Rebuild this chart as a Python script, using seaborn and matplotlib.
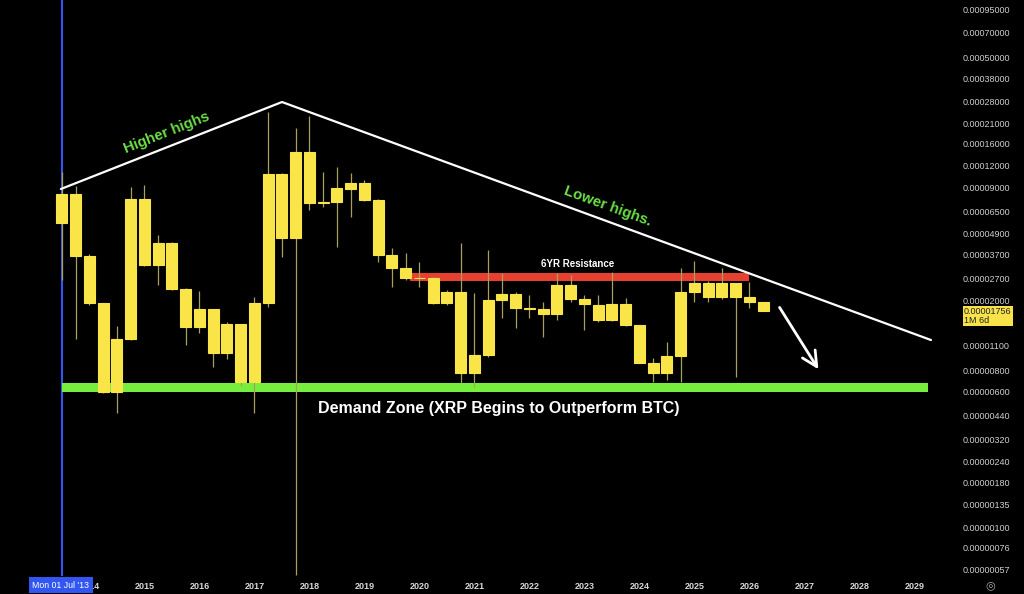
import matplotlib
matplotlib.use("Agg")
import matplotlib.pyplot as plt
import numpy as np
import pandas as pd
import seaborn as sns

# ── quarterly XRP/BTC candles, Q3 2013 .. Q2 2026 ─────────────────────────
quarters = pd.date_range("2013-07-01", periods=52, freq="QS")

opens = [5.62e-5, 8.22e-5, 3.63e-5, 1.93e-5, 5.96e-6, 1.21e-5, 7.69e-5, 3.21e-5,
         4.31e-5, 2.34e-5, 1.42e-5, 1.79e-5, 9.98e-6, 1.47e-5, 6.86e-6, 1.93e-5,
         1.07e-4, 4.57e-5, 1.44e-4, 7.27e-5, 7.36e-5, 8.75e-5, 9.47e-5, 7.59e-5,
         3.67e-5, 3.10e-5, 2.69e-5, 2.70e-5, 1.93e-5, 2.24e-5, 7.66e-6, 9.76e-6,
         2.02e-5, 2.18e-5, 1.81e-5, 1.79e-5, 1.67e-5, 2.47e-5, 2.05e-5, 1.89e-5,
         1.55e-5, 1.91e-5, 1.45e-5, 8.82e-6, 7.66e-6, 9.67e-6, 2.24e-5, 2.52e-5,
         2.11e-5, 2.52e-5, 2.11e-5, 1.98e-5]
highs = [1.10e-4, 9.14e-5, 3.70e-5, 1.95e-5, 1.44e-5, 8.98e-5, 9.26e-5, 4.78e-5,
         4.35e-5, 2.36e-5, 2.29e-5, 1.80e-5, 1.52e-5, 1.48e-5, 2.11e-5, 2.44e-4,
         1.08e-4, 1.96e-4, 2.31e-4, 1.10e-4, 1.18e-4, 1.08e-4, 9.89e-5, 7.65e-5,
         4.01e-5, 3.78e-5, 3.36e-5, 2.75e-5, 2.30e-5, 4.28e-5, 2.23e-5, 3.92e-5,
         2.88e-5, 2.26e-5, 2.16e-5, 1.98e-5, 2.88e-5, 2.81e-5, 2.16e-5, 2.16e-5,
         2.94e-5, 2.07e-5, 1.46e-5, 9.34e-6, 1.16e-5, 3.08e-5, 3.40e-5, 2.61e-5,
         3.08e-5, 2.53e-5, 2.58e-5, 1.98e-5]
lows = [2.63e-5, 1.21e-5, 1.90e-5, 5.90e-6, 4.53e-6, 1.19e-5, 3.18e-5, 2.47e-5,
        2.30e-5, 1.11e-5, 1.31e-5, 8.36e-6, 9.26e-6, 6.48e-6, 4.53e-6, 1.85e-5,
        3.58e-5, 5.31e-7, 6.65e-5, 6.95e-5, 4.08e-5, 6.08e-5, 7.50e-5, 3.36e-5,
        2.39e-5, 2.63e-5, 2.41e-5, 1.92e-5, 1.90e-5, 6.71e-6, 6.42e-6, 9.50e-6,
        1.59e-5, 1.39e-5, 1.59e-5, 1.24e-5, 1.55e-5, 1.98e-5, 1.36e-5, 1.52e-5,
        1.53e-5, 1.44e-5, 8.80e-6, 6.83e-6, 7.01e-6, 6.86e-6, 1.96e-5, 1.96e-5,
        2.04e-5, 7.32e-6, 1.81e-5, 1.756e-5]
closes = [8.22e-5, 3.63e-5, 1.93e-5, 5.96e-6, 1.21e-5, 7.69e-5, 3.21e-5, 4.31e-5,
          2.34e-5, 1.42e-5, 1.79e-5, 9.98e-6, 1.47e-5, 6.86e-6, 1.93e-5, 1.07e-4,
          4.57e-5, 1.44e-4, 7.27e-5, 7.36e-5, 8.86e-5, 9.47e-5, 7.59e-5, 3.67e-5,
          3.10e-5, 2.69e-5, 2.70e-5, 1.93e-5, 2.24e-5, 7.66e-6, 9.76e-6, 2.02e-5,
          2.18e-5, 1.81e-5, 1.80e-5, 1.67e-5, 2.47e-5, 2.05e-5, 1.91e-5, 1.55e-5,
          1.91e-5, 1.45e-5, 8.82e-6, 7.66e-6, 9.67e-6, 2.24e-5, 2.52e-5, 2.11e-5,
          2.52e-5, 2.11e-5, 1.98e-5, 1.756e-5]

# drawn annotations (decimal year, price)
trend_x = [2013.48, 2017.5, 2029.3]
trend_y = [8.78e-5, 2.776e-4, 1.19e-5]
resist_x = [2019.83, 2025.99]
resist_lo, resist_hi = 2.616e-5, 2.908e-5
demand_x = [2013.5, 2029.25]
demand_lo, demand_hi = 5.96e-6, 6.71e-6
arrow_from = (2026.52, 1.89e-5)
arrow_to = (2027.28, 7.83e-6)

price_ticks = [0.00095, 0.0007, 0.0005, 0.00038, 0.00028, 0.00021, 0.00016,
               0.00012, 0.00009, 0.000065, 0.000049, 0.000037, 0.000027,
               0.00002, 0.000011, 0.000008, 0.000006, 0.0000044, 0.0000032,
               0.0000024, 0.0000018, 0.00000135, 0.000001, 0.00000076,
               0.00000057]
year_ticks = list(range(2014, 2030))
last_price = "0.00001756"

# ── styling ────────────────────────────────────────────────────────────────
sns.set_theme(style="dark", rc={"axes.facecolor": "black",
                                "figure.facecolor": "black",
                                "axes.edgecolor": "black"})
plt.rcParams["font.family"] = ["Liberation Sans", "DejaVu Sans"]

YELLOW = "#F9E547"
WICK = "#a8a060"
GREEN = "#78EE3C"
TXT_GREEN = "#6BE046"
RED = "#E8402F"
BLUE = "#3157F0"

df = pd.DataFrame({"date": quarters, "open": opens, "high": highs,
                   "low": lows, "close": closes})
df["x"] = df["date"].dt.year + (df["date"].dt.month - 1) / 12
df["top"] = df[["open", "close"]].max(axis=1)
df["bot"] = df[["open", "close"]].min(axis=1)

fig = plt.figure(figsize=(10.24, 5.94), dpi=100)
ax = fig.add_axes([0, 18 / 594, 947 / 1024, 576 / 594])
ax.set_yscale("log")
ax.set_xlim(2012.373, 2029.591)
ax.set_ylim(5.241e-7, 1.0708e-3)

# crosshair
ax.axvline(2013.5, color=BLUE, lw=1.5, zorder=1)

# bands
ax.fill_between(demand_x, demand_lo, demand_hi, color=GREEN, lw=0, zorder=2)
ax.fill_between(resist_x, resist_lo, resist_hi, color=RED, lw=0, zorder=2)

# candles
ax.vlines(df["x"], df["low"], df["high"], color=WICK, lw=0.9, zorder=3)
ax.bar(df["x"], df["top"] - df["bot"], bottom=df["bot"], width=0.2,
       color=YELLOW, edgecolor=YELLOW, linewidth=0.8, zorder=4)

# trend line
trend = pd.DataFrame({"x": trend_x, "y": trend_y})
sns.lineplot(data=trend, x="x", y="y", sort=False, estimator=None,
             color="white", lw=1.6, ax=ax, zorder=5)

# arrow
ax.annotate("", xy=arrow_to, xytext=arrow_from,
            arrowprops=dict(arrowstyle="->,head_length=0.9,head_width=0.45",
                            color="white", lw=2), zorder=6)

# labels
ax.text(2015.40, 1.842e-4, "Higher highs", color=TXT_GREEN, fontsize=10.8,
        fontweight="bold", rotation=21.6, ha="center", va="center",
        rotation_mode="anchor")
ax.text(2023.42, 6.95e-5, "Lower highs.", color=TXT_GREEN, fontsize=10.8,
        fontweight="bold", rotation=-20.1, ha="center", va="center",
        rotation_mode="anchor")
ax.text(2022.88, 3.255e-5, "6YR Resistance", color="white", fontsize=7,
        fontweight="bold", ha="center", va="center")
ax.text(2021.44, 4.81e-6, "Demand Zone (XRP Begins to Outperform BTC)",
        color="white", fontsize=11.5, fontweight="bold", ha="center",
        va="center")

# axes
ax.set_xlabel("")
ax.set_ylabel("")
ax.grid(False)
for s in ax.spines.values():
    s.set_visible(False)
ax.set_xticks(year_ticks)
ax.set_xticklabels([str(y) for y in year_ticks])
ax.tick_params(axis="x", length=0, pad=4, labelsize=6.5, labelcolor="#d8d8d8")
for lab in ax.get_xticklabels():
    lab.set_fontweight("bold")
ax.yaxis.tick_right()
ax.yaxis.set_minor_locator(matplotlib.ticker.NullLocator())
ax.set_yticks(price_ticks)
ax.set_yticklabels([f"{v:.8f}" for v in price_ticks])
ax.tick_params(axis="y", length=0, pad=11.5, labelsize=6.5, labelcolor="#cfcfcf")

# current price tag
fig.text(964 / 1024, 1 - 316 / 594, f"{last_price}\n1M 6d", fontsize=6.5,
         color="#222222", ha="left", va="center", linespacing=1.0,
         bbox=dict(boxstyle="square,pad=0.15", fc="#F7E24A", ec="none"))

# crosshair date tag
fig.text(61 / 1024, 1 - 585 / 594, "Mon 01 Jul '13", fontsize=6.3, color="white",
         ha="center", va="center",
         bbox=dict(boxstyle="square,pad=0.45", fc=BLUE, ec="none"))

# settings icon
fig.text(990 / 1024, 1 - 585 / 594, "\u25CE", fontsize=8, color="#aaaaaa",
         ha="center", va="center", family="DejaVu Sans")

fig.savefig("out.png", dpi=100, facecolor="black")
